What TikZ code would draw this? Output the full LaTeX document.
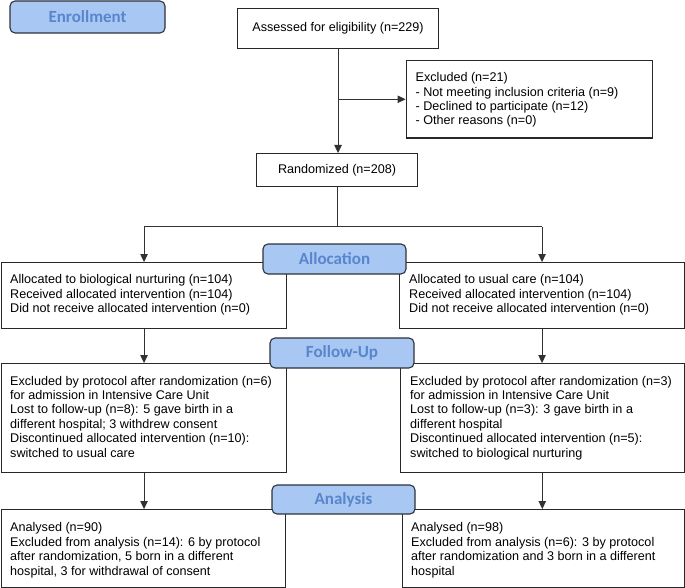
\documentclass[tikz,border=0pt]{standalone}
\usepackage{fontspec}
\setmainfont{Liberation Sans}
\newfontfamily\labelfont{Carlito}
\usetikzlibrary{arrows.meta}
\definecolor{boxline}{RGB}{40,40,40}
\definecolor{lblfill}{RGB}{168,199,243}
\definecolor{lbltext}{RGB}{88,134,204}
\definecolor{lblline}{RGB}{45,50,60}
\definecolor{arrowline}{RGB}{50,50,50}
\tikzset{
  flowbox/.style={draw=boxline, line width=1.1pt, rectangle, anchor=north west, inner sep=0pt, fill=white, font=\fontsize{12.6}{14.4}\selectfont},
  boxtext/.style={anchor=north west, inner sep=0pt, align=left, font=\fontsize{12.6}{14.4}\selectfont},
  stagelabel/.style={draw=lblline, line width=1.1pt, fill=lblfill, rounded corners=5pt, text=lbltext, font=\labelfont\bfseries\fontsize{17}{18}\selectfont, inner sep=0pt},
  flowarrow/.style={draw=arrowline, line width=1.1pt, -{Triangle[length=8pt,width=7.5pt]}},
  flowline/.style={draw=arrowline, line width=1.1pt},
}
\begin{document}
\begin{tikzpicture}[x=1pt,y=-1pt]
\useasboundingbox (0,0) rectangle (685,588);

% boxes
\node[flowbox, minimum width=201pt, minimum height=40pt] (assess) at (237,8) {Assessed for eligibility (n=229)};
\node[flowbox, minimum width=246pt, minimum height=77.5pt] (excl) at (405.5,60) {};
\node[flowbox, minimum width=161pt, minimum height=33pt] (rand) at (256,153) {Randomized (n=208)};
\node[flowbox, minimum width=285pt, minimum height=66pt] (allocL) at (1,262) {};
\node[flowbox, minimum width=285pt, minimum height=66pt] (allocR) at (399,262) {};
\node[flowbox, minimum width=285pt, minimum height=109pt] (fuL) at (1,363) {};
\node[flowbox, minimum width=284.5pt, minimum height=109pt] (fuR) at (399.5,363) {};
\node[flowbox, minimum width=284pt, minimum height=78pt] (anL) at (1,509) {};
\node[flowbox, minimum width=282pt, minimum height=78pt] (anR) at (402,509) {};

% box texts
\node[boxtext] (excltext) at ([shift={(10,12.3)}]excl.north west) {Excluded (n=21)\\- Not meeting inclusion criteria (n=9)\\- Declined to participate (n=12)\\- Other reasons (n=0)};
\node[boxtext] (allocLtext) at ([shift={(9,12.3)}]allocL.north west) {Allocated to biological nurturing (n=104)\\Received allocated intervention (n=104)\\Did not receive allocated intervention (n=0)};
\node[boxtext] (allocRtext) at ([shift={(10,12.3)}]allocR.north west) {Allocated to usual care (n=104)\\Received allocated intervention (n=104)\\Did not receive allocated intervention (n=0)};
\node[boxtext] (fuLtext) at ([shift={(9,12.8)}]fuL.north west) {Excluded by protocol after randomization (n=6)\\for admission in Intensive Care Unit\\Lost to follow-up (n=8): 5 gave birth in a\\different hospital; 3 withdrew consent\\Discontinued allocated intervention (n=10):\\switched to usual care};
\node[boxtext] (fuRtext) at ([shift={(10.5,12.8)}]fuR.north west) {Excluded by protocol after randomization (n=3)\\for admission in Intensive Care Unit\\Lost to follow-up (n=3): 3 gave birth in a\\different hospital\\Discontinued allocated intervention (n=5):\\switched to biological nurturing};
\node[boxtext] (anLtext) at ([shift={(9,13.5)}]anL.north west) {Analysed (n=90)\\Excluded from analysis (n=14): 6 by protocol\\after randomization, 5 born in a different\\hospital, 3 for withdrawal of consent};
\node[boxtext] (anRtext) at ([shift={(9,13.5)}]anR.north west) {Analysed (n=98)\\Excluded from analysis (n=6): 3 by protocol\\after randomization and 3 born in a different\\hospital};

% connectors
\draw[flowarrow] (assess.south) -- (assess.south |- rand.north);
\coordinate (branch) at (assess.south |- excl.west);
\draw[flowarrow] (branch) -- (excl.west);
\path (rand.south) ++(0,39.5) coordinate (split);
\draw[flowline] (rand.south) -- (split);
\draw[flowline] (allocL.north |- split) -- (allocR.north |- split);
\draw[flowarrow] (allocL.north |- split) -- (allocL.north);
\draw[flowarrow] (allocR.north |- split) -- (allocR.north);
\draw[flowarrow] (allocL.south) -- (allocL.south |- fuL.north);
\draw[flowarrow] (allocR.south) -- (allocR.south |- fuR.north);
\draw[flowarrow] (fuL.south) -- (fuL.south |- anL.north);
\draw[flowarrow] (fuR.south) -- (fuR.south |- anR.north);

% stage labels
\node[stagelabel, minimum width=155pt, minimum height=32pt] (enrol) at (87.5,17) {Enrollment};
\node[stagelabel, minimum width=143pt, minimum height=30pt] (alloclbl) at (334.5,259) {Allocation};
\node[stagelabel, minimum width=144pt, minimum height=30pt] (fulbl) at (342,353) {Follow-Up};
\node[stagelabel, minimum width=143pt, minimum height=29pt] (anlbl) at (343.5,499.5) {Analysis};
\end{tikzpicture}
\end{document}
